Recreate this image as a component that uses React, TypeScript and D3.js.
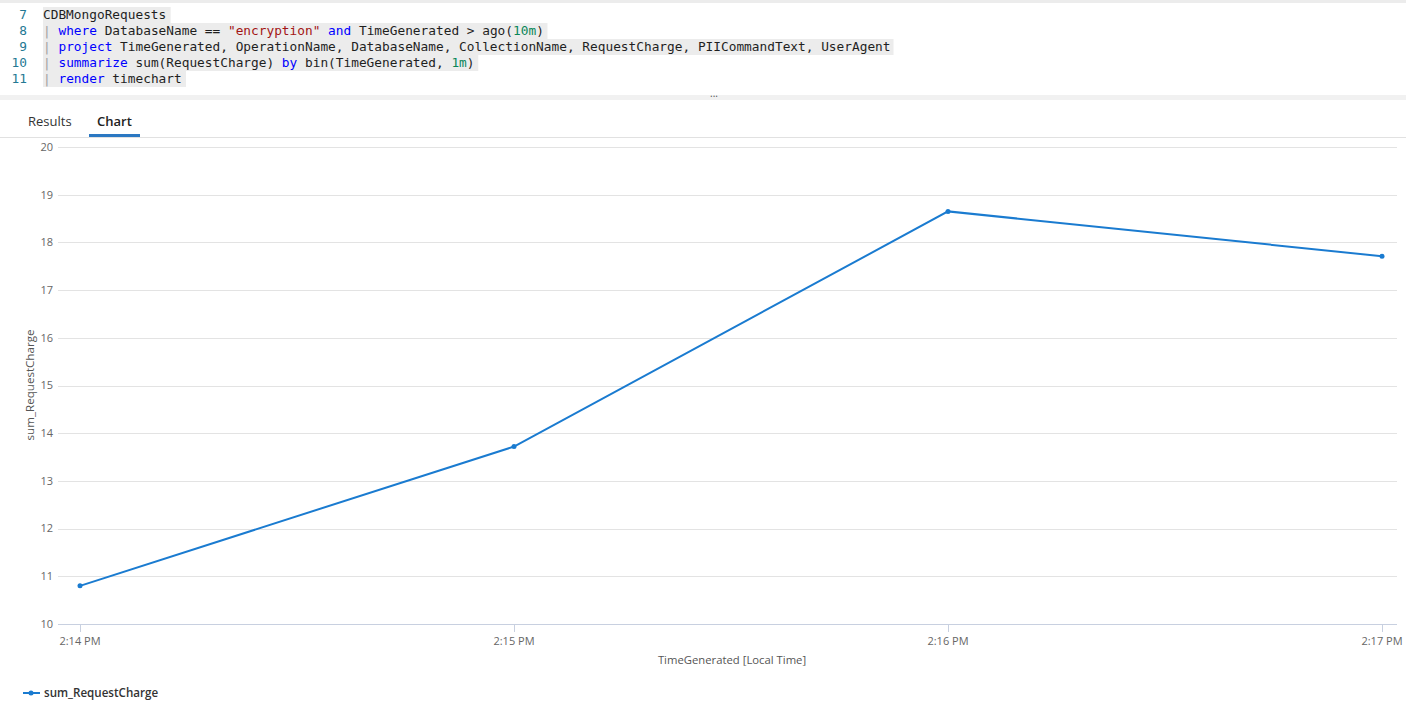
import React, { useEffect, useRef } from 'react';
import * as d3 from 'd3';

// query lines shown above the chart: [lineNo, tokens]
const codeLines: [number, [string, string][]][] = [
  [7, [['CDBMongoRequests', 'txt']]],
  [8, [['| ', 'pipe'], ['where', 'kw'], [' DatabaseName == ', 'txt'], ['"encryption"', 'str'], [' ', 'txt'], ['and', 'kw'], [' TimeGenerated > ago(', 'txt'], ['10m', 'num'], [')', 'txt']]],
  [9, [['| ', 'pipe'], ['project', 'kw'], [' TimeGenerated, OperationName, DatabaseName, CollectionName, RequestCharge, PIICommandText, UserAgent', 'txt']]],
  [10, [['| ', 'pipe'], ['summarize', 'kw'], [' sum(RequestCharge) ', 'txt'], ['by', 'kw'], [' bin(TimeGenerated, ', 'txt'], ['1m', 'num'], [')', 'txt']]],
  [11, [['| ', 'pipe'], ['render', 'kw'], [' timechart', 'txt']]],
];

const tabs = ['Results', 'Chart'];
const seriesName = 'sum_RequestCharge';
const timeLabels = ['2:14 PM', '2:15 PM', '2:16 PM', '2:17 PM'];
const times = [
  new Date(2023, 0, 1, 14, 14),
  new Date(2023, 0, 1, 14, 15),
  new Date(2023, 0, 1, 14, 16),
  new Date(2023, 0, 1, 14, 17),
];
const requestCharge = [10.8, 13.72, 18.65, 17.71];
const yTicks = [10, 11, 12, 13, 14, 15, 16, 17, 18, 19, 20];

const tokenColor: Record<string, string> = {
  txt: '#1f1f1f', kw: '#0000ff', str: '#a31515', num: '#098658', pipe: '#a0a0a0',
};

function App() {
  const svgRef = useRef<SVGSVGElement>(null);

  useEffect(() => {
    document.body.style.margin = '0';
    const W = 1406, H = 705;
    const svg = d3.select(svgRef.current).attr('width', W).attr('height', H);
    svg.selectAll('*').remove();
    svg.append('rect').attr('width', W).attr('height', H).attr('fill', '#fff');

    // editor area
    svg.append('rect').attr('x', 0).attr('y', 0).attr('width', W).attr('height', 3).attr('fill', '#ececec');
    const mono = '"DejaVu Sans Mono", monospace';
    const charW = 7.69;
    const code = svg.append('g');
    codeLines.forEach(([n, toks], i) => {
      const y = 15 + i * 16;
      const len = toks.reduce((s, t) => s + t[0].length, 0);
      code.append('rect').attr('x', 43).attr('y', y - 8).attr('width', (len + 0.6) * charW).attr('height', 16).attr('fill', '#ececec');
      code.append('text').attr('x', 27).attr('y', y).attr('dy', '0.35em').attr('text-anchor', 'end')
        .attr('font-family', mono).attr('font-size', 12.8).attr('fill', '#237893').text(n);
      const t = code.append('text').attr('x', 43).attr('y', y).attr('dy', '0.35em')
        .attr('font-family', mono).attr('font-size', 12.8).attr('xml:space', 'preserve').style('white-space', 'pre');
      toks.forEach(([s, k]) => t.append('tspan').attr('fill', tokenColor[k]).text(s));
    });
    // splitter
    svg.append('rect').attr('x', 0).attr('y', 95).attr('width', W).attr('height', 5).attr('fill', '#f1f1f1');
    svg.append('text').attr('x', 714).attr('y', 97).attr('text-anchor', 'middle').attr('font-family', 'Open Sans, sans-serif')
      .attr('font-size', 10).attr('fill', '#555').text('...');

    // tabs
    const sans = '"Open Sans", sans-serif';
    svg.append('text').attr('x', 28).attr('y', 121).attr('dy', '0.35em').attr('font-family', sans)
      .attr('font-size', 13).attr('fill', '#333').text(tabs[0]);
    svg.append('text').attr('x', 97).attr('y', 121).attr('dy', '0.35em').attr('font-family', sans)
      .attr('font-size', 13).attr('font-weight', 600).attr('fill', '#222').text(tabs[1]);
    svg.append('line').attr('x1', 0).attr('x2', W).attr('y1', 137.5).attr('y2', 137.5).attr('stroke', '#e1e1e1');
    svg.append('rect').attr('x', 89).attr('y', 134).attr('width', 51).attr('height', 3).attr('fill', '#2b78c2');

    // chart
    const left = 58, right = 1397;
    const x = d3.scaleTime().domain([times[0], times[times.length - 1]]).range([80, 1382]);
    const y = d3.scaleLinear().domain([10, 20]).range([624, 147]);

    const g = svg.append('g');
    yTicks.forEach(v => {
      g.append('line').attr('x1', left).attr('x2', right).attr('y1', Math.round(y(v)) + 0.5).attr('y2', Math.round(y(v)) + 0.5)
        .attr('stroke', v === 10 ? '#c8d0e0' : '#e3e3e3');
      g.append('text').attr('x', 53).attr('y', y(v)).attr('dy', '0.35em').attr('text-anchor', 'end')
        .attr('font-family', sans).attr('font-size', 11).attr('fill', '#666').text(v);
    });
    times.forEach((t, i) => {
      const px = Math.round(x(t)) + 0.5;
      g.append('line').attr('x1', px).attr('x2', px).attr('y1', 624).attr('y2', 632).attr('stroke', '#c8d0e0');
      g.append('text').attr('x', x(t)).attr('y', 641).attr('dy', '0.35em').attr('text-anchor', 'middle')
        .attr('font-family', sans).attr('font-size', 11).attr('fill', '#666').text(timeLabels[i]);
    });

    g.append('text').attr('x', 732).attr('y', 660).attr('dy', '0.35em').attr('text-anchor', 'middle')
      .attr('font-family', sans).attr('font-size', 11.3).attr('fill', '#555').text('TimeGenerated [Local Time]');
    g.append('text').attr('transform', 'translate(30,385) rotate(-90)').attr('dy', '0.35em').attr('text-anchor', 'middle')
      .attr('font-family', sans).attr('font-size', 11.6).attr('fill', '#555').text(seriesName);

    const data = times.map((t, i) => ({ t, v: requestCharge[i] }));
    const line = d3.line<{ t: Date; v: number }>().x(d => x(d.t)).y(d => y(d.v));
    g.append('path').datum(data).attr('d', line).attr('fill', 'none').attr('stroke', '#1a7bd0').attr('stroke-width', 2);
    g.selectAll('circle.pt').data(data).enter().append('circle').attr('class', 'pt')
      .attr('cx', d => x(d.t)).attr('cy', d => y(d.v)).attr('r', 2.5).attr('fill', '#1a7bd0');

    // legend
    const lg = svg.append('g');
    lg.append('line').attr('x1', 23).attr('x2', 40).attr('y1', 693).attr('y2', 693).attr('stroke', '#1a7bd0').attr('stroke-width', 2);
    lg.append('circle').attr('cx', 31).attr('cy', 693).attr('r', 2.5).attr('fill', '#1a7bd0');
    lg.append('text').attr('x', 44).attr('y', 693).attr('dy', '0.35em').attr('font-family', sans)
      .attr('font-size', 11.6).attr('font-weight', 600).attr('fill', '#333').text(seriesName);
  }, []);

  return <svg ref={svgRef}></svg>;
}

export default App;
